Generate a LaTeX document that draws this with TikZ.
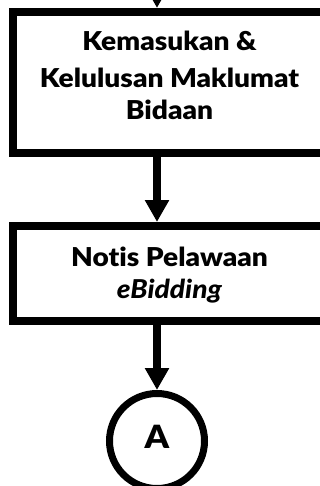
\documentclass[tikz,border=0pt]{standalone}
\usepackage{fontspec}
\setmainfont{Lato}[BoldFont={Lato Black},BoldItalicFont={Lato Black Italic},
  FakeStretch=1.08,Ligatures=CommonOff]
\usetikzlibrary{arrows.meta}
\begin{document}
\begin{tikzpicture}[x=1pt,y=-1pt,
  procbox/.style={draw, line width=8pt, minimum width=313pt, align=center,
    inner sep=0pt, font=\fontsize{26}{32}\selectfont\bfseries},
  connector/.style={draw, circle, minimum size=95pt, line width=7pt,
    inner sep=0pt, font=\fontsize{32}{34}\selectfont\bfseries},
  flow/.style={line width=8pt, -{Triangle[length=22pt,width=23pt]}}]
  \useasboundingbox (0,0) rectangle (320,486);
  \clip (0,0) rectangle (320,486);
  % process boxes
  \node[procbox, minimum height=141pt, text depth=14.5pt] (b1) at (169.5,82.5)
    {Kemasukan \&\\[5pt]Kelulusan Maklumat\\Bidaan};
  \node[procbox, minimum height=95pt, text depth=2.5pt] (b2) at (169.5,273.5)
    {Notis Pelawaan\\\textit{eBidding}};
  % off-page connector
  \node[connector, text depth=9pt] (a) at (157,441) {A};
  % flow lines
  \coordinate (in) at (157,-30);
  \draw[flow] (in) -- (in |- b1.north);
  \draw[flow] (in |- b1.south) -- (in |- b2.north);
  \draw[flow] (in |- b2.south) -- (a.north);
\end{tikzpicture}
\end{document}
